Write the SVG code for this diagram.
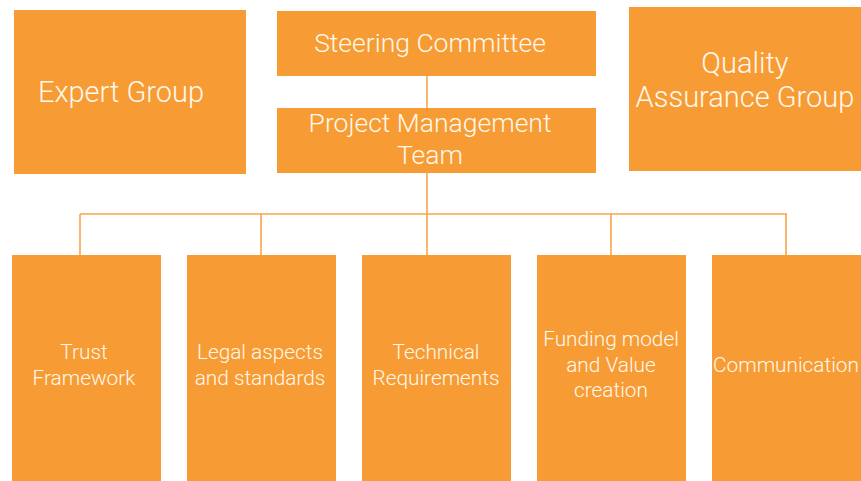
<svg xmlns="http://www.w3.org/2000/svg" width="861" height="481" viewBox="0 0 861 481">
<style>
.box{fill:#F79C34}
.t{fill:#FFF8EC;font-family:Roboto,"Liberation Sans",sans-serif;text-anchor:middle;font-weight:300}
.big{font-size:29px}
.mid{font-size:26.5px}
.sm{font-size:20.8px}
.conn{stroke:#F8A649;stroke-width:1.6;fill:none}
</style>
<rect width="861" height="481" fill="#FFFFFF"/>
<g id="connectors">
<line class="conn" x1="427" y1="76" x2="427" y2="108"/>
<line class="conn" x1="427" y1="173" x2="427" y2="255"/>
<line class="conn" x1="80" y1="214" x2="787" y2="214"/>
<line class="conn" x1="80" y1="214" x2="80" y2="255"/>
<line class="conn" x1="261" y1="214" x2="261" y2="255"/>
<line class="conn" x1="611" y1="214" x2="611" y2="255"/>
<line class="conn" x1="786" y1="214" x2="786" y2="255"/>
</g>
<g id="expert-group">
<rect class="box" x="14" y="10" width="232" height="164"/>
<text class="t big" x="121" y="102">Expert Group</text>
</g>
<g id="steering-committee">
<rect class="box" x="277" y="11" width="319" height="65"/>
<text class="t mid" x="430" y="52">Steering Committee</text>
</g>
<g id="project-management-team">
<rect class="box" x="277" y="108" width="319" height="65"/>
<text class="t mid" x="430" y="132">Project Management</text>
<text class="t mid" x="430" y="164">Team</text>
</g>
<g id="quality-assurance-group">
<rect class="box" x="629" y="7" width="232" height="164"/>
<text class="t big" x="745" y="73">Quality</text>
<text class="t big" x="745" y="107">Assurance Group</text>
</g>
<g id="trust-framework">
<rect class="box" x="12" y="255" width="149" height="226"/>
<text class="t sm" x="84" y="359">Trust</text>
<text class="t sm" x="84" y="385">Framework</text>
</g>
<g id="legal-aspects">
<rect class="box" x="187" y="255" width="149" height="226"/>
<text class="t sm" x="260" y="359">Legal aspects</text>
<text class="t sm" x="260" y="385">and standards</text>
</g>
<g id="technical-requirements">
<rect class="box" x="362" y="255" width="149" height="226"/>
<text class="t sm" x="436" y="359">Technical</text>
<text class="t sm" x="436" y="385">Requirements</text>
</g>
<g id="funding-model">
<rect class="box" x="537" y="255" width="149" height="226"/>
<text class="t sm" x="611" y="346">Funding model</text>
<text class="t sm" x="611" y="372">and Value</text>
<text class="t sm" x="611" y="397">creation</text>
</g>
<g id="communication">
<rect class="box" x="712" y="255" width="149" height="226"/>
<text class="t sm" x="786" y="372">Communication</text>
</g>
</svg>
